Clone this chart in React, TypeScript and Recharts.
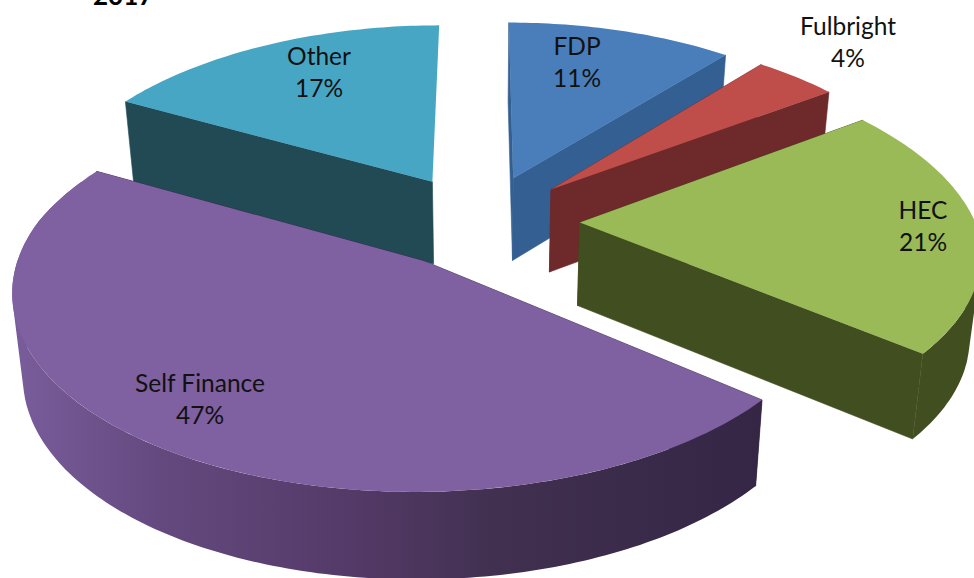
import { PieChart, Pie, Cell } from 'recharts';

const CATEGORIES = ['Other', 'FDP', 'Fulbright', 'HEC', 'Self Finance'];
const SHARES = [17, 11, 4, 21, 47];
const TOP_COLORS = ['#47a6c4', '#4a7ebb', '#bf4d49', '#9aba58', '#7f60a0'];
const SIDE_COLORS = ['#224a55', '#345f92', '#6e2a2a', '#414e20', 'url(#selfWall)'];
const CUT_COLORS = ['#224a55', '#345f92', '#6e2a2a', '#414e20', '#352645'];

// text centres for the two line labels, same order as CATEGORIES
const LABEL_X = [319, 577, 848, 923, 200];
const LABEL_Y = [57, 47, 27, 211, 384];

const EXPLODE = 0.25; // pull out, in radii
const SQUASH = 0.475; // disc height / width
const PERSPECTIVE = 0.136;
const DEPTH = 83;
const BASE_SHRINK = 0.977;

const rad = (d: number) => (d * Math.PI) / 180;

function projector(cx: number, cy: number, R: number, mid: number) {
  const ox = EXPLODE * Math.sin(rad(mid));
  const oy = -EXPLODE * Math.cos(rad(mid));
  return (theta: number, r: number, bottom: boolean) => {
    const X = ox + r * Math.sin(rad(theta));
    const Y = oy - r * Math.cos(rad(theta));
    const p = 1 / (1 - PERSPECTIVE * Y);
    // the far side narrows a bit faster than it flattens
    const px = Y < 0 ? Math.pow(p, 1.2) : p;
    const x = R * X * px;
    const y = R * SQUASH * Y * p;
    return bottom
      ? [cx + x * BASE_SHRINK, cy + y + DEPTH * Math.pow(p, 0.3)]
      : [cx + x, cy + y];
  };
}

const toPath = (pts: number[][]) =>
  'M' + pts.map(p => `${p[0].toFixed(1)},${p[1].toFixed(1)}`).join('L') + 'Z';

function area(pts: number[][]) {
  let a = 0;
  pts.forEach((p, i) => {
    const q = pts[(i + 1) % pts.length];
    a += p[0] * q[1] - q[0] * p[1];
  });
  return a;
}

function Slice3D(props: any) {
  const { cx, cy, outerRadius, startAngle, endAngle, index } = props;
  // recharts angles run counter clockwise from 3 o'clock, here clockwise from 12
  const from = 90 - startAngle;
  const to = 90 - endAngle;
  const project = projector(cx, cy, outerRadius, (from + to) / 2);

  const arc = (a: number, b: number, bottom: boolean) => {
    const pts: number[][] = [];
    const n = Math.max(2, Math.ceil(Math.abs(b - a)));
    for (let i = 0; i <= n; i++) pts.push(project(a + ((b - a) * i) / n, 1, bottom));
    return pts;
  };

  const cut = (theta: number) =>
    toPath([project(0, 0, false), project(theta, 1, false), project(theta, 1, true), project(0, 0, true)]);

  // only the part of the rim that faces the viewer, as same-wound quads so the
  // fold at the silhouette does not cancel out under the nonzero fill
  const rimFrom = Math.max(from, 90);
  const rimTo = Math.min(to, 295);
  let rim = '';
  if (rimTo > rimFrom) {
    const tops = arc(rimFrom, rimTo, false);
    const bottoms = arc(rimFrom, rimTo, true);
    for (let i = 0; i + 1 < tops.length; i++) {
      const quad = [tops[i], tops[i + 1], bottoms[i + 1], bottoms[i]];
      rim += toPath(area(quad) < 0 ? quad.reverse() : quad);
    }
  }
  const cutColor = CUT_COLORS[index];

  return (
    <g>
      <path d={cut(from)} fill={cutColor} stroke={cutColor} strokeWidth={0.6} />
      {/* back face of the first slice is not visible in the picture */}
      {index !== 0 && <path d={cut(to)} fill={cutColor} stroke={cutColor} strokeWidth={0.6} />}
      {rim && <path d={rim} fill={SIDE_COLORS[index]} />}
      <path d={toPath([project(0, 0, false), ...arc(from, to, false)])} fill={TOP_COLORS[index]} />
    </g>
  );
}

function SliceLabel({ index, name, value }: any) {
  return (
    <text textAnchor="middle" fontFamily="Lato" fontSize={24.5} fill="#111">
      <tspan x={LABEL_X[index]} y={LABEL_Y[index] + 8}>{name}</tspan>
      <tspan x={LABEL_X[index]} y={LABEL_Y[index] + 40}>{value}%</tspan>
    </text>
  );
}

const rows = CATEGORIES.map((name, i) => ({ name, value: SHARES[i] }));

export default function App() {
  return (
    <div style={{ position: 'fixed', left: 0, top: 0, width: 974, height: 578, background: '#fff', overflow: 'hidden' }}>
      <PieChart width={974} height={578} margin={{ top: 0, right: 0, bottom: 0, left: 0 }}>
        <defs>
          <linearGradient id="selfWall" gradientUnits="userSpaceOnUse" x1="10" y1="0" x2="760" y2="0">
            <stop offset="0" stopColor="#7a5d9c" />
            <stop offset="0.2" stopColor="#64497f" />
            <stop offset="0.45" stopColor="#543a68" />
            <stop offset="0.65" stopColor="#413050" />
            <stop offset="1" stopColor="#352645" />
          </linearGradient>
        </defs>
        <text x={93} y={5} fontFamily="Lato" fontWeight={700} fontSize={26} fill="#000">2017</text>
        <Pie
          data={rows}
          dataKey="value"
          nameKey="name"
          cx={481}
          cy={221}
          outerRadius={395}
          startAngle={151.2}
          endAngle={-208.8}
          paddingAngle={0}
          stroke="none"
          shape={Slice3D}
          label={SliceLabel}
          labelLine={false}
          isAnimationActive={false}
        >
          {rows.map((r, i) => (
            <Cell key={r.name} fill={TOP_COLORS[i]} />
          ))}
        </Pie>
      </PieChart>
    </div>
  );
}
